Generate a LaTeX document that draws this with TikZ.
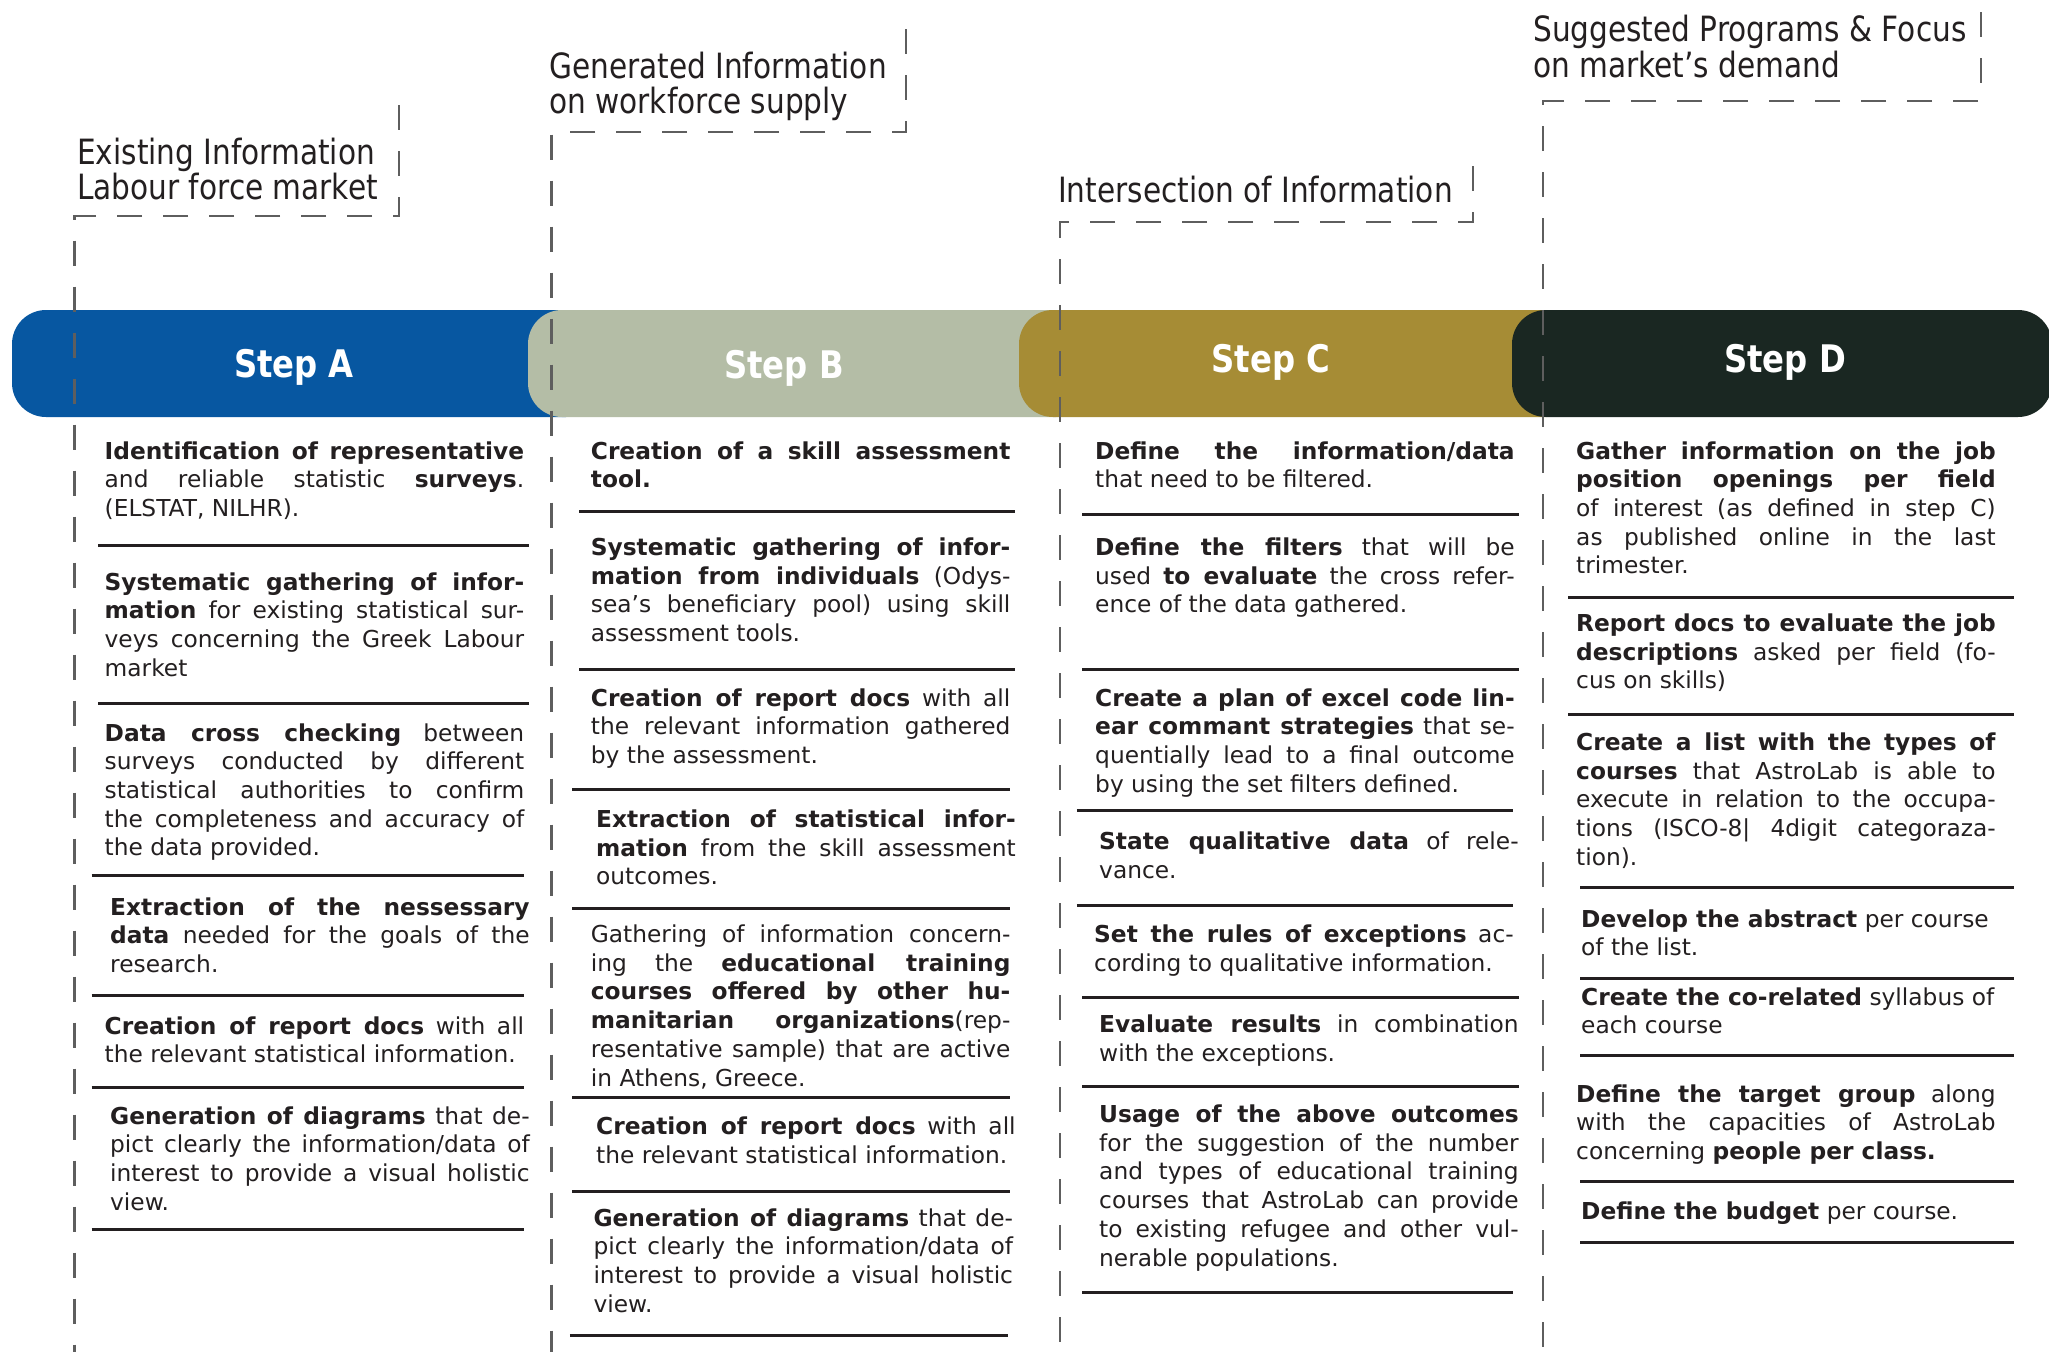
\documentclass[tikz,border=0pt]{standalone}
\usepackage{fontspec}
\setmainfont{DejaVu Sans}
\newfontfamily\narrowfont{DejaVu Sans}[FakeStretch=0.85]
\usepackage{tikz}
\usetikzlibrary{calc}

\definecolor{stepblue}{HTML}{0757A1}
\definecolor{stepsage}{HTML}{B4BDA6}
\definecolor{stepgold}{HTML}{A68C35}
\definecolor{stepdark}{HTML}{1A2722}
\definecolor{ink}{HTML}{231F20}
\definecolor{guidegray}{HTML}{5E5E5E}

\newcommand\bodyfont{\fontsize{23.3}{28.7}\selectfont
  \tolerance=10000 \hyphenpenalty=10000 \exhyphenpenalty=10000}

\begin{document}
\begin{tikzpicture}[x=1pt,y=-1pt,
    item/.style={anchor=base west, inner sep=0pt, text width=419.5pt,
      align=justify, font=\bodyfont, text=ink},
    sep/.style={line width=3pt, draw=ink},
    guide/.style={draw=guidegray, line width=2.6pt, dash pattern=on 25pt off 21pt},
    steplabel/.style={text=white, inner sep=0pt,
      font=\narrowfont\bfseries\fontsize{38}{40}\selectfont},
    header/.style={anchor=base west, inner sep=0pt, align=left, text=ink,
      font=\narrowfont\fontsize{34.8}{35.3}\selectfont}]

    \useasboundingbox[fill=white] (0,0) rectangle (2049,1352);

    % the four step bars, each one laid over the previous
    \fill[stepblue, rounded corners=34pt] (12,310) rectangle (600,417);
    \fill[stepsage, rounded corners=34pt] (528,310) rectangle (1090,417);
    \fill[stepgold, rounded corners=34pt] (1019,310) rectangle (1580,417);
    \fill[stepdark, rounded corners=34pt] (1512,310) rectangle (2052,417);

    \node[steplabel] (stepA) at (294,367) {Step A};
    \node[steplabel] (stepB) at (784,368) {Step B};
    \node[steplabel] (stepC) at (1271,362) {Step C};
    \node[steplabel] (stepD) at (1785,362) {Step D};

    % dashed guides with their headings (base = last line)
    \draw[guide] (399,105) -- (399,216) -- (74.5,216) -- (74.5,1352);
    \draw[guide] (906,29) -- (906,132) -- (551.5,132) -- (551.5,1352);
    \draw[guide] (1473,166) -- (1473,222) -- (1060,222) -- (1060,1352);
    \draw[guide] (1981,12) -- (1981,101) -- (1543,101) -- (1543,1352);

    \node[header] (infoA) at (77,199.5) {Existing Information\\Labour force market};
    \node[header] (infoB) at (549,113.5) {Generated Information\\on workforce supply};
    \node[header] (infoC) at (1058,202) {Intersection of Information};
    \node[header] (infoD) at (1533,77) {Suggested Programs \& Focus\\on market’s demand};

    % step A
    \node[item] (a1) at (104.5,459) {\textbf{Identification of representative}\linebreak
      and reliable statistic \textbf{surveys}.\linebreak (ELSTAT, NILHR).};
    \node[item] (a2) at (104.5,590) {\textbf{Systematic gathering of infor-}\linebreak
      \textbf{mation} for existing statistical sur-\linebreak veys concerning the Greek Labour\linebreak market};
    \node[item] (a3) at (104.5,741) {\textbf{Data cross checking} between\linebreak
      surveys conducted by different\linebreak statistical authorities to confirm\linebreak
      the completeness and accuracy of\linebreak the data provided.};
    \node[item] (a4) at (110,915) {\textbf{Extraction of the nessessary}\linebreak
      \textbf{data} needed for the goals of the\linebreak research.};
    \node[item] (a5) at (104.5,1034) {\textbf{Creation of report docs} with all\linebreak
      the relevant statistical information.};
    \node[item] (a6) at (110,1124) {\textbf{Generation of diagrams} that de-\linebreak
      pict clearly the information/data of\linebreak interest to provide a visual holistic\linebreak view.};

    % step B
    \node[item] (b1) at (590.7,459) {\textbf{Creation of a skill assessment}\linebreak \textbf{tool.}};
    \node[item] (b2) at (590.7,555.5) {\textbf{Systematic gathering of infor-}\linebreak
      \textbf{mation from individuals} (Odys-\linebreak sea’s beneficiary pool) using skill\linebreak
      assessment tools.};
    \node[item] (b3) at (590.7,706) {\textbf{Creation of report docs} with all\linebreak
      the relevant information gathered\linebreak by the assessment.};
    \node[item] (b4) at (596,827.5) {\textbf{Extraction of statistical infor-}\linebreak
      \textbf{mation} from the skill assessment\linebreak outcomes.};
    \node[item] (b5) at (590.7,942.5) {Gathering of information concern-\linebreak
      ing the \textbf{educational training}\linebreak \textbf{courses offered by other hu-}\linebreak
      \textbf{manitarian organizations}(rep-\linebreak resentative sample) that are active\linebreak
      in Athens, Greece.};
    \node[item] (b6) at (596,1134.5) {\textbf{Creation of report docs} with all\linebreak
      the relevant statistical information.};
    \node[item] (b7) at (593.3,1226) {\textbf{Generation of diagrams} that de-\linebreak
      pict clearly the information/data of\linebreak interest to provide a visual holistic\linebreak view.};

    % step C
    \node[item] (c1) at (1095,459) {\textbf{Define the information/data}\linebreak
      that need to be filtered.};
    \node[item] (c2) at (1095,555.5) {\textbf{Define the filters} that will be\linebreak
      used \textbf{to evaluate} the cross refer-\linebreak ence of the data gathered.};
    \node[item] (c3) at (1095,706) {\textbf{Create a plan of excel code lin-}\linebreak
      \textbf{ear commant strategies} that se-\linebreak quentially lead to a final outcome\linebreak
      by using the set filters defined.};
    \node[item] (c4) at (1099,849.5) {\textbf{State qualitative data} of rele-\linebreak vance.};
    \node[item] (c5) at (1094,942.5) {\textbf{Set the rules of exceptions} ac-\linebreak
      cording to qualitative information.};
    \node[item] (c6) at (1099,1032.5) {\textbf{Evaluate results} in combination\linebreak
      with the exceptions.};
    \node[item] (c7) at (1099,1122.5) {\textbf{Usage of the above outcomes}\linebreak
      for the suggestion of the number\linebreak and types of educational training\linebreak
      courses that AstroLab can provide\linebreak to existing refugee and other vul-\linebreak
      nerable populations.};

    % step D
    \node[item] (d1) at (1576,459) {\textbf{Gather information on the job}\linebreak
      \textbf{position openings per field}\linebreak of interest (as defined in step C)\linebreak
      as published online in the last\linebreak trimester.};
    \node[item] (d2) at (1576,631.5) {\textbf{Report docs to evaluate the job}\linebreak
      \textbf{descriptions} asked per field (fo-\linebreak cus on skills)};
    \node[item] (d3) at (1576,750.5) {\textbf{Create a list with the types of}\linebreak
      \textbf{courses} that AstroLab is able to\linebreak execute in relation to the occupa-\linebreak
      tions (ISCO-8| 4digit categoraza-\linebreak tion).};
    \node[item] (d4) at (1581,927) {\textbf{Develop the abstract} per course\newline of the list.};
    \node[item] (d5) at (1581,1005) {\textbf{Create the co-related} syllabus of\newline each course};
    \node[item] (d6) at (1576,1102) {\textbf{Define the target group} along\linebreak
      with the capacities of AstroLab\linebreak concerning \textbf{people per class.}};
    \node[item] (d7) at (1581,1219.5) {\textbf{Define the budget} per course.};

    % rules between the items
    \foreach \xa/\xb/\yy in {98/529/545, 98/529/703, 91.5/524/875.6, 91.5/524/995.8,
        91.5/524/1087.3, 91.5/524/1229.7,
        579/1015.4/511, 579/1015.4/669, 572.4/1010.2/789.3, 572.4/1010.2/908.2,
        572.4/1010.2/1097.7, 572.4/1010.2/1191.8, 569.8/1007.6/1335.5,
        1082/1518.5/514.9, 1082/1518.5/669, 1076.8/1513.3/810.2, 1076.8/1513.3/905.6,
        1082/1518.5/997.1, 1082/1518.5/1086, 1082/1513.3/1292.4,
        1568.2/2013.8/597.2, 1568.2/2013.8/714.8, 1580/2013.8/887.3, 1580/2013.8/978.8,
        1580/2013.8/1055.9, 1580/2013.8/1181.3, 1580/2013.8/1242.8}
        \draw[sep] (\xa,\yy) -- (\xb,\yy);
\end{tikzpicture}
\end{document}
